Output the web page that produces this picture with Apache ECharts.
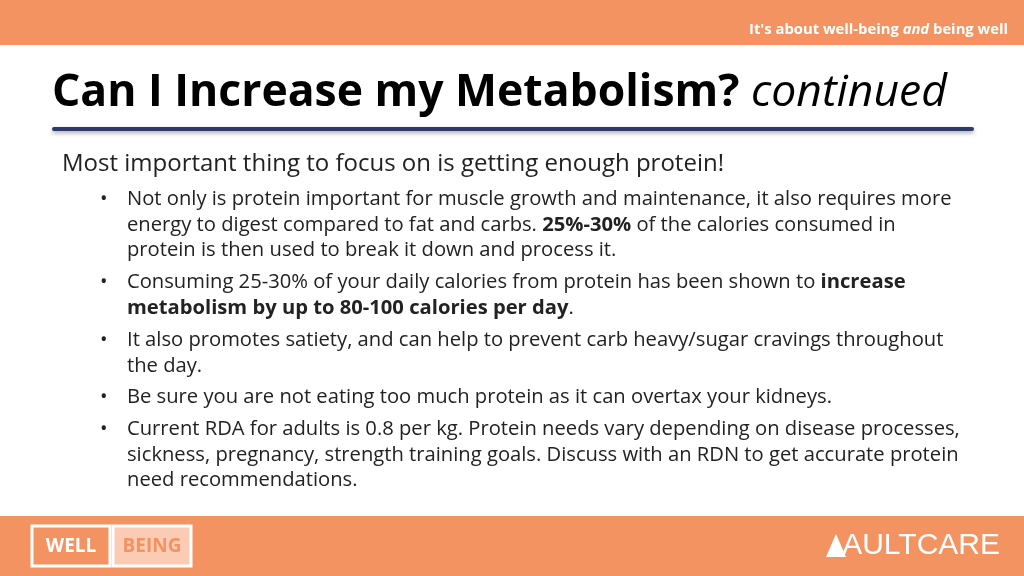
<!DOCTYPE html><html><head><meta charset="utf-8">
<script src="https://cdn.jsdelivr.net/npm/echarts@6/dist/echarts.min.js"></script>
<style>html,body{margin:0;padding:0}#c{width:1024px;height:576px}</style></head><body><div id="c"></div>
<script>
const tagline = "It's about well-being {i|and} being well";
const titleMain = "Can I Increase my Metabolism?";
const titleSub = "continued";
const intro = "Most important thing to focus on is getting enough protein!";
const bulletLines = [
  [true, "Not only is protein important for muscle growth and maintenance, it also requires more"],
  [false, "energy to digest compared to fat and carbs. {b|25%-30%} of the calories consumed in"],
  [false, "protein is then used to break it down and process it."],
  [true, "Consuming 25-30% of your daily calories from protein has been shown to {b|increase}"],
  [false, "{b|metabolism by up to 80-100 calories per day}."],
  [true, "It also promotes satiety, and can help to prevent carb heavy/sugar cravings throughout"],
  [false, "the day."],
  [true, "Be sure you are not eating too much protein as it can overtax your kidneys."],
  [true, "Current RDA for adults is 0.8 per kg. Protein needs vary depending on disease processes,"],
  [false, "sickness, pregnancy, strength training goals. Discuss with an RDN to get accurate protein"],
  [false, "need recommendations."]
];
const lineY = [199,225,250,282,308,340,366,397,429,455,480];
const F = '"Open Sans", sans-serif';
const orange = '#F39362';
const g = [];
g.push({type:'rect',shape:{x:0,y:0,width:1024,height:45},style:{fill:orange}});
g.push({type:'rect',shape:{x:0,y:516,width:1024,height:60},style:{fill:orange}});
g.push({type:'text',x:1008,y:30,style:{text:tagline,fill:'#fff',font:'bold 14.8px '+F,align:'right',verticalAlign:'middle',rich:{i:{fontStyle:'italic',fontWeight:'bold',fontSize:14.8,fontFamily:F,fill:'#fff'}}}});
g.push({type:'text',x:52,y:93,style:{text:titleMain+' {s|'+titleSub+'}',fill:'#000',font:'bold 44.5px '+F,verticalAlign:'middle',rich:{s:{fontStyle:'italic',fontWeight:'normal',fontSize:44.5,fontFamily:F,fill:'#000'}}}});
g.push({type:'rect',shape:{x:52,y:127,width:922,height:4,r:2},style:{fill:'#2E3A6A',shadowBlur:4,shadowColor:'rgba(0,0,0,0.35)',shadowOffsetY:2}});
g.push({type:'text',x:62,y:164,style:{text:intro,fill:'#222',font:'24px '+F,verticalAlign:'middle'}});
bulletLines.forEach((l,i)=>{
  if(l[0]) g.push({type:'text',x:100,y:lineY[i],style:{text:'•',fill:'#222',font:'20px '+F,verticalAlign:'middle'}});
  g.push({type:'text',x:127,y:lineY[i],style:{text:l[1],fill:'#222',font:'20.2px '+F,verticalAlign:'middle',rich:{b:{fontWeight:'bold',fontSize:20.2,fontFamily:F,fill:'#222'}}}});
});
g.push({type:'rect',shape:{x:32,y:526,width:78,height:40},style:{fill:orange,stroke:'#fff',lineWidth:3}});
g.push({type:'text',x:71,y:547,style:{text:'WELL',fill:'#fff',font:'bold 19px '+F,align:'center',verticalAlign:'middle'}});
g.push({type:'rect',shape:{x:113,y:526,width:78,height:40},style:{fill:'#FBCBB3',stroke:'#fff',lineWidth:3}});
g.push({type:'text',x:152,y:547,style:{text:'BEING',fill:orange,font:'bold 19px '+F,align:'center',verticalAlign:'middle'}});
g.push({type:'polygon',shape:{points:[[826,557],[836,534],[846,557]]},style:{fill:'#fff'}});
g.push({type:'text',x:1000,y:546,style:{text:'AULTCARE',fill:'#fff',fontSize:30,fontWeight:'normal',fontFamily:'"Liberation Sans Narrow", sans-serif',align:'right',verticalAlign:'middle'}});
const chart = echarts.init(document.getElementById('c'));
chart.setOption({backgroundColor:'#fff',graphic:g});
</script></body></html>
